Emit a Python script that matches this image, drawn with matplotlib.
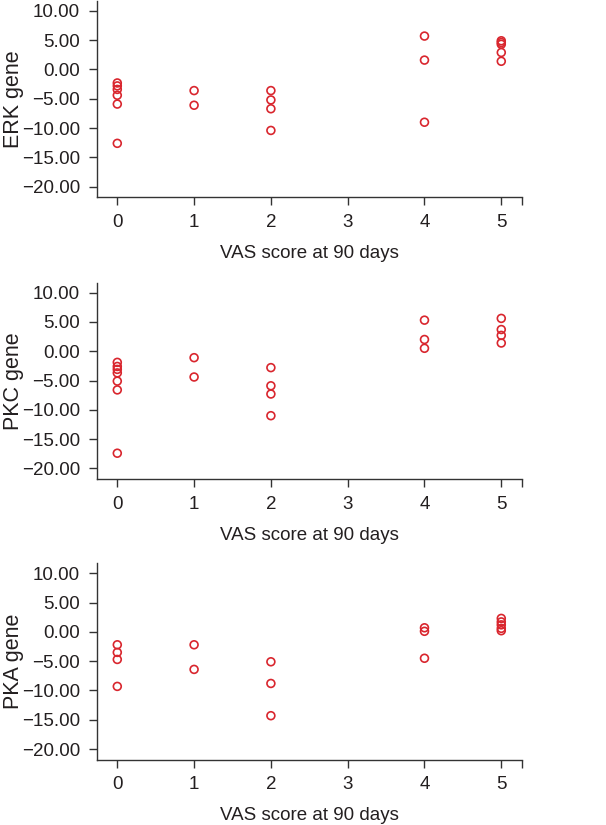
import matplotlib
matplotlib.use("Agg")
from matplotlib import pyplot as plt

plt.rcParams['font.family'] = ['Liberation Sans', 'DejaVu Sans']

# VAS score groups and gene expression values per panel
erk_x = [0, 0, 0, 0, 0, 0, 1, 1, 2, 2, 2, 2, 4, 4, 4, 5, 5, 5, 5, 5]
erk_y = [-2.3, -2.8, -3.4, -4.4, -5.9, -12.6, -3.6, -6.1, -3.6, -5.2, -6.7, -10.4,
         5.7, 1.6, -9.0, 4.9, 4.6, 4.3, 2.9, 1.4]

pkc_x = [0, 0, 0, 0, 0, 0, 0, 1, 1, 2, 2, 2, 2, 4, 4, 4, 5, 5, 5, 5]
pkc_y = [-1.9, -2.6, -3.1, -3.7, -5.1, -6.6, -17.4, -1.1, -4.4, -2.8, -5.9, -7.3, -11.0,
         5.3, 2.0, 0.5, 5.6, 3.7, 2.7, 1.4]

pka_x = [0, 0, 0, 0, 1, 1, 2, 2, 2, 4, 4, 4, 5, 5, 5, 5, 5]
pka_y = [-2.2, -3.5, -4.7, -9.3, -2.2, -6.4, -5.1, -8.8, -14.3, 0.7, 0.1, -4.5,
         2.3, 1.7, 1.2, 0.6, 0.2]

panels = [("ERK gene", erk_x, erk_y), ("PKC gene", pkc_x, pkc_y), ("PKA gene", pka_x, pka_y)]
x_ticks = [0, 1, 2, 3, 4, 5]
y_ticks = [10, 5, 0, -5, -10, -15, -20]

text_col = "#231f20"
red = "#d9262e"

fig = plt.figure(figsize=(6.06, 8.25), dpi=100)
bottoms = [0.7609, 0.4194, 0.0792]

for (label, xs, ys), b in zip(panels, bottoms):
    ax = fig.add_axes([0.1596, b, 0.7013, 0.238])
    ax.scatter(xs, ys, s=32, facecolors="none", edgecolors=red, linewidths=1.2, zorder=3)
    ax.set_xlim(-0.268, 5.266)
    ax.set_ylim(-21.8, 11.7)
    ax.set_xticks(x_ticks)
    ax.set_xticks([5.266], minor=True)
    ax.set_yticks(y_ticks)
    ax.set_yticklabels([("%.2f" % v).replace("-", "\u2212") for v in y_ticks])
    for s in ["top", "right"]:
        ax.spines[s].set_visible(False)
    for s in ["left", "bottom"]:
        ax.spines[s].set_color("#333333")
        ax.spines[s].set_linewidth(1.0)
    ax.tick_params(axis="both", which="both", length=6, width=1.0, color="#333333",
                   labelsize=13.5, labelcolor=text_col, pad=6)
    ax.set_xlabel("VAS score at 90 days", fontsize=13.5, color=text_col, labelpad=10)
    ax.set_ylabel(label, fontsize=15.5, color=text_col)
    ax.yaxis.set_label_coords(-0.17, 0.5)

fig.savefig("out.png", dpi=100)
